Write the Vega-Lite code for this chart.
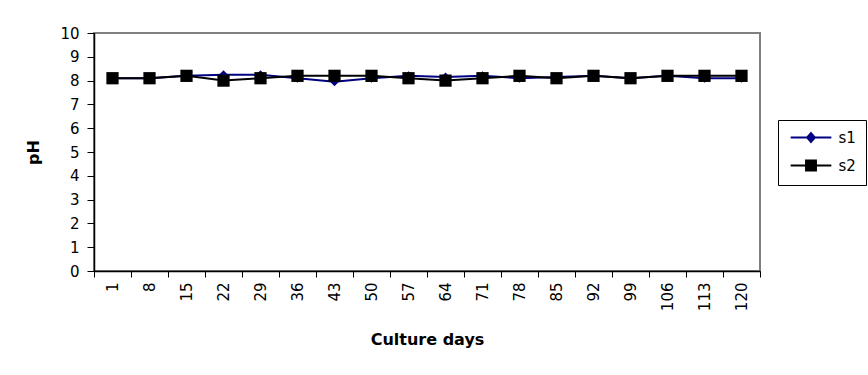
{
  "$schema": "https://vega.github.io/schema/vega-lite/v6.json",
  "width": 666,
  "height": 238,
  "autosize": {"type": "none"},
  "padding": {"left": 94, "top": 33, "right": 108, "bottom": 104},
  "background": "white",
  "config": {
    "font": "DejaVu Sans",
    "view": {"stroke": "#808080", "strokeWidth": 2}
  },
  "data": {
    "values": [
      {"day": 1, "series": "s1", "pH": 8.1},
      {"day": 8, "series": "s1", "pH": 8.1},
      {"day": 15, "series": "s1", "pH": 8.2},
      {"day": 22, "series": "s1", "pH": 8.25},
      {"day": 29, "series": "s1", "pH": 8.25},
      {"day": 36, "series": "s1", "pH": 8.1},
      {"day": 43, "series": "s1", "pH": 7.95},
      {"day": 50, "series": "s1", "pH": 8.1},
      {"day": 57, "series": "s1", "pH": 8.2},
      {"day": 64, "series": "s1", "pH": 8.15},
      {"day": 71, "series": "s1", "pH": 8.2},
      {"day": 78, "series": "s1", "pH": 8.1},
      {"day": 85, "series": "s1", "pH": 8.15},
      {"day": 92, "series": "s1", "pH": 8.2},
      {"day": 99, "series": "s1", "pH": 8.1},
      {"day": 106, "series": "s1", "pH": 8.2},
      {"day": 113, "series": "s1", "pH": 8.1},
      {"day": 120, "series": "s1", "pH": 8.1},
      {"day": 1, "series": "s2", "pH": 8.1},
      {"day": 8, "series": "s2", "pH": 8.1},
      {"day": 15, "series": "s2", "pH": 8.2},
      {"day": 22, "series": "s2", "pH": 8.0},
      {"day": 29, "series": "s2", "pH": 8.1},
      {"day": 36, "series": "s2", "pH": 8.2},
      {"day": 43, "series": "s2", "pH": 8.2},
      {"day": 50, "series": "s2", "pH": 8.2},
      {"day": 57, "series": "s2", "pH": 8.1},
      {"day": 64, "series": "s2", "pH": 8.0},
      {"day": 71, "series": "s2", "pH": 8.1},
      {"day": 78, "series": "s2", "pH": 8.2},
      {"day": 85, "series": "s2", "pH": 8.1},
      {"day": 92, "series": "s2", "pH": 8.2},
      {"day": 99, "series": "s2", "pH": 8.1},
      {"day": 106, "series": "s2", "pH": 8.2},
      {"day": 113, "series": "s2", "pH": 8.2},
      {"day": 120, "series": "s2", "pH": 8.2}
    ]
  },
  "encoding": {
    "x": {
      "field": "day",
      "type": "ordinal",
      "scale": {"paddingInner": 0, "paddingOuter": 0},
      "axis": {
        "title": "Culture days",
        "titleFont": "DejaVu Sans",
        "titleFontSize": 16,
        "titleFontWeight": "bold",
        "titleColor": "black",
        "titlePadding": 21,
        "labelAngle": -90,
        "labelFont": "DejaVu Sans",
        "labelFontSize": 15,
        "labelColor": "black",
        "labelPadding": 5,
        "tickBand": "extent",
        "tickSize": 6,
        "tickColor": "black",
        "domainColor": "black",
        "domainWidth": 1.5,
        "grid": false
      }
    },
    "y": {
      "field": "pH",
      "type": "quantitative",
      "scale": {"domain": [0, 10], "nice": false, "zero": true},
      "axis": {
        "title": "pH",
        "titleFont": "DejaVu Sans",
        "titleFontSize": 16,
        "titleFontWeight": "bold",
        "titleColor": "black",
        "titlePadding": 18,
        "values": [0, 1, 2, 3, 4, 5, 6, 7, 8, 9, 10],
        "labelFont": "DejaVu Sans",
        "labelFontSize": 15,
        "labelColor": "black",
        "labelPadding": 8,
        "tickSize": 7,
        "tickColor": "black",
        "domainColor": "black",
        "domainWidth": 1.5,
        "grid": false
      }
    }
  },
  "layer": [
    {
      "mark": {"type": "line", "strokeWidth": 2},
      "encoding": {
        "color": {
          "field": "series",
          "type": "nominal",
          "scale": {"domain": ["s1", "s2"], "range": ["#000080", "#000000"]},
          "legend": {
            "title": null,
            "orient": "none",
            "legendX": 684,
            "legendY": 87,
            "strokeColor": "black",
            "fillColor": "white",
            "padding": 10,
            "symbolSize": 121,
            "symbolOffset": 15.5,
            "labelOffset": 20,
            "rowPadding": 10,
            "labelFont": "DejaVu Sans",
            "labelFontSize": 15,
            "labelColor": "black",
            "symbolStrokeWidth": 2,
            "encode": {
              "symbols": {
                "update": {
                  "shape": {"signal": "datum.value === 's1' ? 'M-3.7,0L3.7,0M0,-0.8L0.7,0L0,0.8L-0.7,0Z' : 'M-3.7,0L3.7,0M-0.9,-0.9L0.9,-0.9L0.9,0.9L-0.9,0.9Z'"},
                  "fill": {"signal": "datum.value === 's1' ? '#000080' : '#000000'"},
                  "stroke": {"signal": "datum.value === 's1' ? '#000080' : '#000000'"}
                }
              }
            }
          }
        }
      }
    },
    {
      "transform": [{"filter": "datum.series === 's1'"}],
      "mark": {"type": "point", "filled": true, "opacity": 1, "shape": "diamond", "size": 81, "color": "#000080"}
    },
    {
      "transform": [{"filter": "datum.series === 's2'"}],
      "mark": {"type": "point", "filled": true, "opacity": 1, "shape": "square", "size": 150, "color": "#000000"}
    }
  ]
}
